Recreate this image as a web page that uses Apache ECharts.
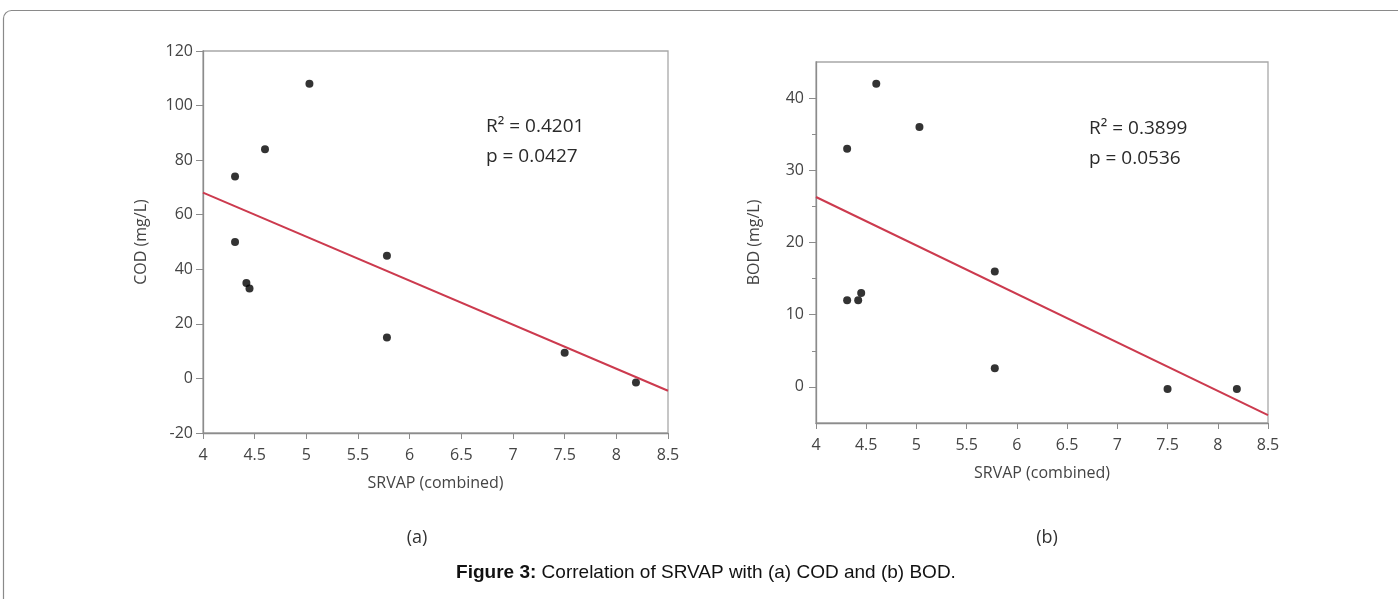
<!DOCTYPE html>
<html><head><meta charset="utf-8">
<script src="https://cdn.jsdelivr.net/npm/echarts@6/dist/echarts.min.js"></script>
<style>html,body{margin:0;padding:0;background:#fff}#c{width:1398px;height:599px}</style>
</head><body><div id="c"></div>
<script>
// ---- data ----
const srvap = [4.31, 4.31, 4.42, 4.45, 4.60, 5.03, 5.78, 5.78, 7.50, 8.19];
const cod   = [74, 50, 35, 33, 84, 108, 45, 15, 9.4, -1.5];
const bod   = [33, 12, 12, 13, 42, 36, 16, 2.6, -0.3, -0.3];
const codFit = [[4, 68.1], [8.5, -4.5]];
const bodFit = [[4, 26.3], [8.5, -3.9]];
const codTicks = [-20, 0, 20, 40, 60, 80, 100, 120];
const bodTicks = [0, 10, 20, 30, 40];
const bodMinorTicks = [5, 15, 25, 35];
const statsA = ['R\u00B2 = 0.4201', 'p = 0.0427'];
const statsB = ['R\u00B2 = 0.3899', 'p = 0.0536'];
const xName = 'SRVAP (combined)';
const yNameA = 'COD (mg/L)';
const yNameB = 'BOD (mg/L)';
const panelLabels = ['(a)', '(b)'];
const captionBold = 'Figure 3:';
const captionRest = ' Correlation of SRVAP with (a) COD and (b) BOD.';

const FONT = 'Open Sans';
const axisColor = '#8c8c8c';
const labelColor = '#444';

function xAxisFor(gi) {
  return {
    gridIndex: gi, type: 'value', min: 4, max: 8.5, interval: 0.5, position: 'bottom',
    axisLine: {onZero: false, lineStyle: {color: axisColor, width: 1.3}},
    axisTick: {length: 6, lineStyle: {color: axisColor}},
    axisLabel: {margin: 14, fontSize: 16, color: labelColor, fontFamily: FONT},
    splitLine: {show: false},
    name: xName, nameLocation: 'middle', nameGap: 42,
    nameTextStyle: {fontSize: 16, color: labelColor, fontFamily: FONT}
  };
}

const chart = echarts.init(document.getElementById('c'));
chart.setOption({
  animation: false,
  backgroundColor: '#fff',
  grid: [
    {left: 203, top: 51, width: 465, height: 382, show: true, borderColor: '#a8a8a8', borderWidth: 1.3, backgroundColor: 'transparent'},
    {left: 816, top: 62, width: 452, height: 361, show: true, borderColor: '#a8a8a8', borderWidth: 1.3, backgroundColor: 'transparent'}
  ],
  xAxis: [xAxisFor(0), xAxisFor(1)],
  yAxis: [
    {
      gridIndex: 0, type: 'value', position: 'left', min: codTicks[0], max: codTicks[codTicks.length - 1], interval: 20,
      axisLine: {show: true, onZero: false, lineStyle: {color: axisColor, width: 1.3}},
      axisTick: {show: true, length: 7, lineStyle: {color: axisColor}},
      axisLabel: {margin: 10, fontSize: 16, color: labelColor, fontFamily: FONT},
      splitLine: {show: false},
      name: yNameA, nameLocation: 'middle', nameGap: 54,
      nameTextStyle: {fontSize: 16, color: labelColor, fontFamily: FONT}
    },
    {
      gridIndex: 1, type: 'value', position: 'left', min: -5, max: 45, interval: 5,
      axisLine: {show: true, onZero: false, lineStyle: {color: axisColor, width: 1.3}},
      axisTick: {show: true, length: 7, lineStyle: {color: axisColor}, customValues: bodTicks},
      axisLabel: {margin: 12, fontSize: 16, color: labelColor, fontFamily: FONT, customValues: bodTicks},
      splitLine: {show: false},
      name: yNameB, nameLocation: 'middle', nameGap: 54,
      nameTextStyle: {fontSize: 16, color: labelColor, fontFamily: FONT}
    },
    {
      gridIndex: 1, type: 'value', position: 'left', offset: 0, min: -5, max: 45, interval: 5,
      axisLine: {show: false, onZero: false},
      axisTick: {show: true, length: 4, lineStyle: {color: axisColor}, customValues: bodMinorTicks},
      axisLabel: {show: false},
      splitLine: {show: false}
    }
  ],
  series: [
    {type: 'line', xAxisIndex: 0, yAxisIndex: 0, data: codFit, symbol: 'none', silent: true,
     lineStyle: {color: '#cc3a4e', width: 2}},
    {type: 'scatter', xAxisIndex: 0, yAxisIndex: 0, data: srvap.map((x, i) => [x, cod[i]]),
     symbolSize: 8, itemStyle: {color: '#000'}},
    {type: 'line', xAxisIndex: 1, yAxisIndex: 1, data: bodFit, symbol: 'none', silent: true,
     lineStyle: {color: '#cc3a4e', width: 2}},
    {type: 'scatter', xAxisIndex: 1, yAxisIndex: 1, data: srvap.map((x, i) => [x, bod[i]]),
     symbolSize: 8, itemStyle: {color: '#000'}}
  ],
  graphic: [
    {type: 'rect', shape: {x: 3.5, y: 10.5, width: 1430, height: 650, r: 8}, silent: true,
     style: {fill: 'none', stroke: '#8a8a8a', lineWidth: 1.2}},
    {type: 'text', x: 486, y: 127, style: {text: statsA[0], fontSize: 19, fontFamily: FONT, fill: '#2a2a2a', verticalAlign: 'middle', align: 'left'}},
    {type: 'text', x: 486, y: 157, style: {text: statsA[1], fontSize: 19, fontFamily: FONT, fill: '#2a2a2a', verticalAlign: 'middle', align: 'left'}},
    {type: 'text', x: 1089, y: 129, style: {text: statsB[0], fontSize: 19, fontFamily: FONT, fill: '#2a2a2a', verticalAlign: 'middle', align: 'left'}},
    {type: 'text', x: 1089, y: 159, style: {text: statsB[1], fontSize: 19, fontFamily: FONT, fill: '#2a2a2a', verticalAlign: 'middle', align: 'left'}},
    {type: 'text', x: 417, y: 538, style: {text: panelLabels[0], fontSize: 18, fontFamily: FONT, fill: '#333', verticalAlign: 'middle', align: 'center'}},
    {type: 'text', x: 1047, y: 538, style: {text: panelLabels[1], fontSize: 18, fontFamily: FONT, fill: '#333', verticalAlign: 'middle', align: 'center'}},
    {type: 'text', x: 706, y: 573, style: {
      text: '{b|' + captionBold + '}{r|' + captionRest + '}',
      verticalAlign: 'middle', align: 'center',
      rich: {
        b: {fontWeight: 'bold', fontSize: 19, fontFamily: '"Liberation Sans Narrow", "Liberation Sans", Arial', fill: '#111', color: '#111'},
        r: {fontSize: 19, fontFamily: '"Liberation Sans Narrow", "Liberation Sans", Arial', fill: '#111', color: '#111'}
      }
    }}
  ]
});
</script></body></html>
